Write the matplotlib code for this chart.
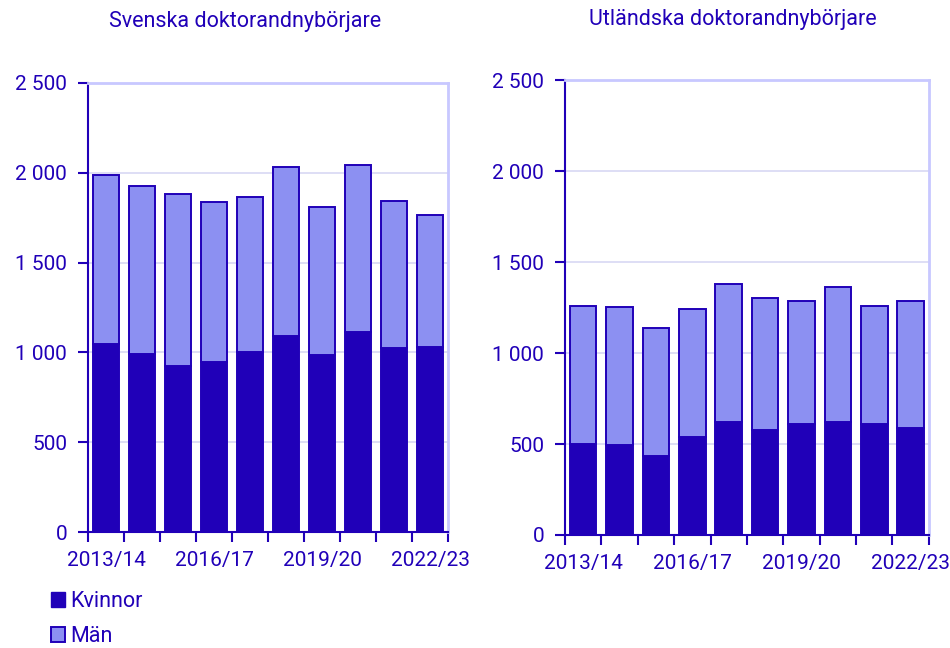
import matplotlib.pyplot as plt
from matplotlib.patches import Patch
import numpy as np

plt.rcParams["font.family"] = ["Roboto", "DejaVu Sans"]

years = ["2013/14", "2014/15", "2015/16", "2016/17", "2017/18",
         "2018/19", "2019/20", "2020/21", "2021/22", "2022/23"]

# Svenska doktorandnybörjare
sv_kvinnor = [1046, 989, 924, 946, 1000, 1093, 987, 1113, 1022, 1031]
sv_total = [1989, 1926, 1881, 1839, 1863, 2030, 1809, 2044, 1844, 1765]
sv_man = [t - k for t, k in zip(sv_total, sv_kvinnor)]

# Utländska doktorandnybörjare
ut_kvinnor = [502, 494, 432, 538, 619, 575, 608, 619, 611, 589]
ut_total = [1258, 1254, 1139, 1243, 1379, 1304, 1287, 1361, 1258, 1287]
ut_man = [t - k for t, k in zip(ut_total, ut_kvinnor)]

yticks = [0, 500, 1000, 1500, 2000, 2500]
ytick_labels = ["0", "500", "1 000", "1 500", "2 000", "2 500"]

dark = "#2000b8"
light = "#8c90f2"
grid = "#d8d8f4"
frame = "#c8c8ff"
textc = "#2000b8"

fig = plt.figure(figsize=(9.5, 6.48), dpi=100)
ax1 = fig.add_axes([0.0926, 0.179, 0.379, 0.693])
ax2 = fig.add_axes([0.5947, 0.1744, 0.383, 0.702])


def draw(ax, kvinnor, man):
    x = np.arange(len(years))
    ax.bar(x, kvinnor, width=0.73, color=dark, edgecolor=dark, linewidth=1.4, zorder=3)
    ax.bar(x, man, width=0.73, bottom=kvinnor, color=light, edgecolor=dark,
           linewidth=1.4, zorder=3)
    ax.set_xlim(-0.5, len(years) - 0.5)
    ax.set_ylim(0, 2500)
    ax.set_yticks(yticks)
    ax.set_yticklabels(ytick_labels)
    ax.yaxis.grid(True, color=grid, linewidth=1.2, zorder=0)
    ax.set_xticks(np.arange(-0.5, len(years)), minor=False)
    ax.set_xticklabels([])
    ax.set_xticks(x[::3], minor=True)
    ax.set_xticklabels([years[i] for i in x[::3]], minor=True)
    ax.tick_params(axis="x", which="major", length=7, width=1.5, color=dark)
    ax.tick_params(axis="x", which="minor", length=0, pad=14, labelsize=15,
                   labelcolor=textc)
    ax.tick_params(axis="y", length=7, width=1.5, color=dark, labelsize=15,
                   labelcolor=textc, pad=8)
    ax.spines["left"].set_color(dark)
    ax.spines["left"].set_linewidth(1.5)
    ax.spines["bottom"].set_color(dark)
    ax.spines["bottom"].set_linewidth(1.5)
    ax.spines["top"].set_color(frame)
    ax.spines["top"].set_linewidth(2)
    ax.spines["right"].set_color(frame)
    ax.spines["right"].set_linewidth(2)


draw(ax1, sv_kvinnor, sv_man)
draw(ax2, ut_kvinnor, ut_man)

fig.text(245 / 950, 1 - 22 / 648, "Svenska doktorandnybörjare", ha="center",
         va="center", fontsize=15.5, color=textc)
fig.text(733 / 950, 1 - 20 / 648, "Utländska doktorandnybörjare", ha="center",
         va="center", fontsize=15.5, color=textc)

handles = [Patch(facecolor=dark, edgecolor=dark, label="Kvinnor"),
           Patch(facecolor=light, edgecolor=dark, linewidth=1.4, label="Män")]
fig.legend(handles=handles, loc="upper left", bbox_to_anchor=(0.045, 0.101),
           frameon=False, fontsize=15.5, labelcolor=textc, handlelength=0.65,
           handleheight=0.65, handletextpad=0.25, labelspacing=0.65,
           borderaxespad=0)

fig.savefig("out.png", dpi=100)
